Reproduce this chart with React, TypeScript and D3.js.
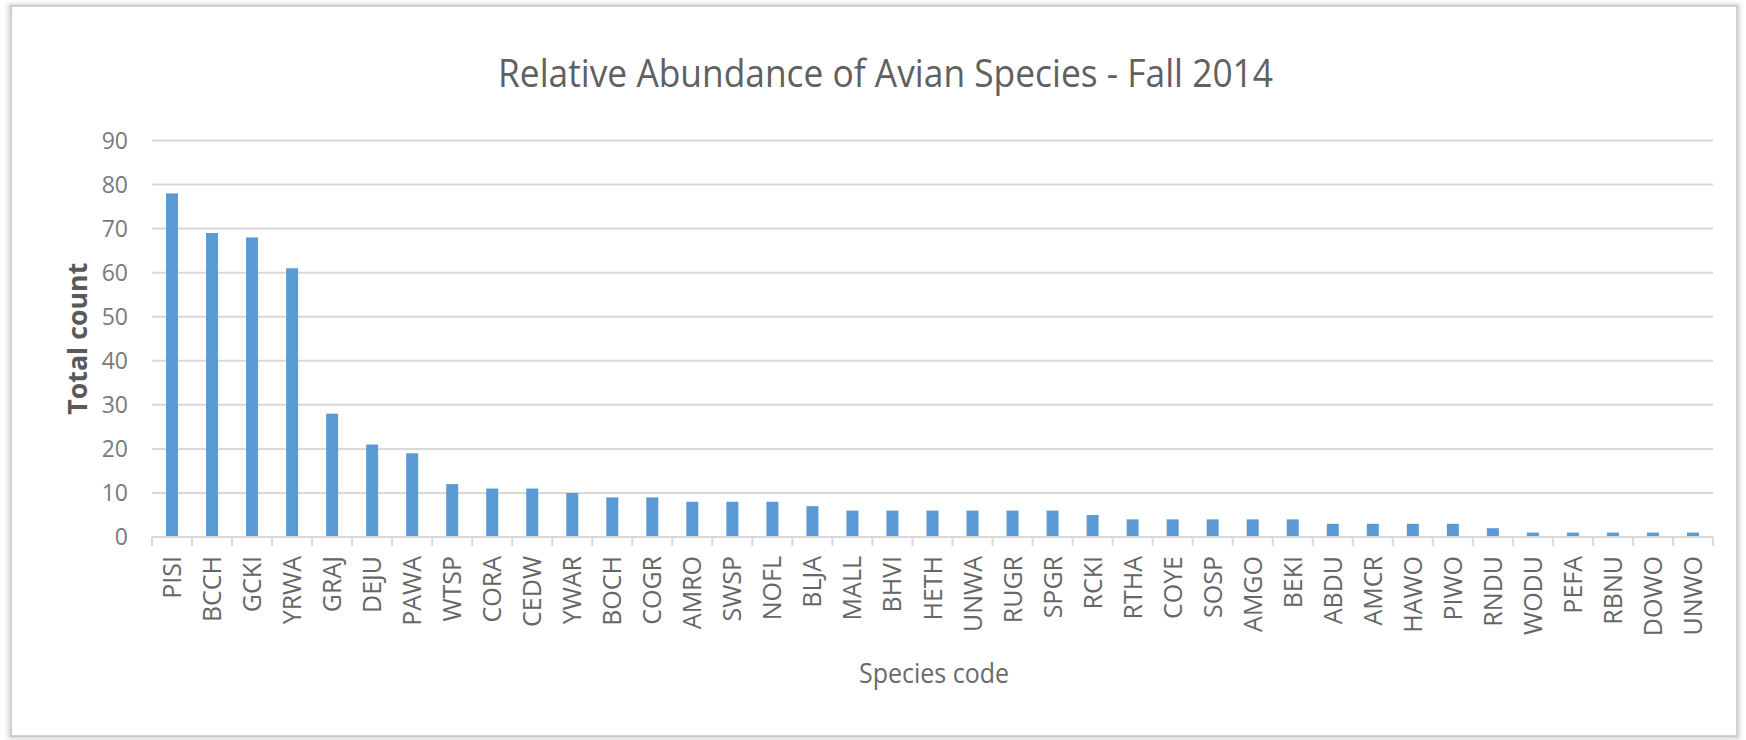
import React from "react";
import * as d3 from "d3";

const species: string[] = [
  "PISI", "BCCH", "GCKI", "YRWA", "GRAJ", "DEJU", "PAWA", "WTSP", "CORA", "CEDW",
  "YWAR", "BOCH", "COGR", "AMRO", "SWSP", "NOFL", "BLJA", "MALL", "BHVI", "HETH",
  "UNWA", "RUGR", "SPGR", "RCKI", "RTHA", "COYE", "SOSP", "AMGO", "BEKI", "ABDU",
  "AMCR", "HAWO", "PIWO", "RNDU", "WODU", "PEFA", "RBNU", "DOWO", "UNWO",
];
const counts: number[] = [
  78, 69, 68, 61, 28, 21, 19, 12, 11, 11,
  10, 9, 9, 8, 8, 8, 7, 6, 6, 6,
  6, 6, 6, 5, 4, 4, 4, 4, 4, 3,
  3, 3, 3, 2, 1, 1, 1, 1, 1,
];
const yTicks: number[] = [0, 10, 20, 30, 40, 50, 60, 70, 80, 90];
const titleText = "Relative Abundance of Avian Species - Fall 2014";
const xTitle = "Species code";
const yTitle = "Total count";

const W = 1746;
const H = 740;
const left = 152;
const right = 1713;
const top = 140.5;
const bottom = 537;

export default function App() {
  const x = d3.scaleBand<string>().domain(species).range([left, right]).paddingInner(0.7).paddingOuter(0.35);
  const step = (right - left) / species.length;
  const y = d3.scaleLinear().domain([0, 90]).range([bottom, top]);
  const font = "'Open Sans', 'Noto Sans', sans-serif";
  const boundaries = d3.range(species.length + 1).map((i) => left + i * step);

  return (
    <svg
      width={W}
      height={H}
      viewBox={`0 0 ${W} ${H}`}
      style={{ position: "absolute", left: 0, top: 0, background: "#fff" }}
    >
      <defs>
        <filter id="sh" x="-5%" y="-5%" width="110%" height="110%">
          <feGaussianBlur stdDeviation="2" />
        </filter>
      </defs>
      <rect x={10} y={6} width={1728} height={731} fill="none" stroke="#d0d0d0" strokeWidth={4} filter="url(#sh)" />
      <rect x={11} y={6} width={1726} height={730} fill="#fff" stroke="#c4c4c4" strokeWidth={1.5} />

      <text
        x={498}
        y={86.5}
        textLength={775}
        lengthAdjust="spacingAndGlyphs"
        fontFamily={font}
        fontSize={39}
        fill="#606060"
      >
        {titleText}
      </text>

      {yTicks.map((t) => (
        <g key={t}>
          {t > 0 && (
            <line x1={left} x2={right} y1={y(t)} y2={y(t)} stroke="#d9d9d9" strokeWidth={2} />
          )}
          <text
            x={128}
            y={y(t)}
            dy="0.36em"
            textAnchor="end"
            fontFamily={font}
            fontSize={23}
            fill="#7a7a7a"
          >
            {t}
          </text>
        </g>
      ))}

      {species.map((s, i) => (
        <rect
          key={s}
          x={x(s)}
          y={y(counts[i])}
          width={x.bandwidth()}
          height={bottom - y(counts[i])}
          fill="#5b9bd5"
        />
      ))}

      <line x1={left} x2={right} y1={bottom} y2={bottom} stroke="#d9d9d9" strokeWidth={2} />
      {boundaries.map((bx, i) => (
        <line key={i} x1={bx} x2={bx} y1={bottom} y2={bottom + 9} stroke="#d9d9d9" strokeWidth={2} />
      ))}

      {species.map((s) => {
        const cx = (x(s) as number) + x.bandwidth() / 2;
        return (
          <text
            key={s}
            transform={`translate(${cx},556) rotate(-90)`}
            dy="0.36em"
            textAnchor="end"
            fontFamily={font}
            fontSize={25}
            fill="#666666"
          >
            {s}
          </text>
        );
      })}

      <text
        x={934}
        y={683}
        textAnchor="middle"
        textLength={150}
        lengthAdjust="spacingAndGlyphs"
        fontFamily={font}
        fontSize={27}
        fill="#6a6a6a"
      >
        {xTitle}
      </text>

      <text
        transform={`translate(87,${(top + bottom) / 2}) rotate(-90)`}
        textAnchor="middle"
        textLength={152}
        lengthAdjust="spacingAndGlyphs"
        fontFamily={font}
        fontWeight="bold"
        fontSize={27}
        fill="#595959"
      >
        {yTitle}
      </text>
    </svg>
  );
}
